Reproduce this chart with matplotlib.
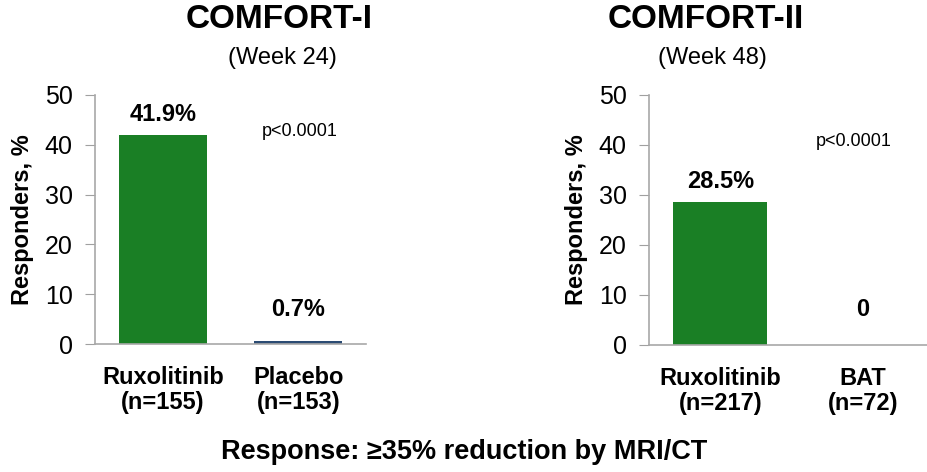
import matplotlib
matplotlib.use("Agg")
import matplotlib.pyplot as plt

plt.rcParams['font.family'] = ['Liberation Sans', 'DejaVu Sans']

# data
titles = ["COMFORT-I", "COMFORT-II"]
weeks = ["(Week 24)", "(Week 48)"]
arms1 = ["Ruxolitinib\n(n=155)", "Placebo\n(n=153)"]
arms2 = ["Ruxolitinib\n(n=217)", "BAT\n(n=72)"]
vals1 = [41.9, 0.7]
vals2 = [28.5, 0.0]
labels1 = ["41.9%", "0.7%"]
labels2 = ["28.5%", "0"]
pvals = ["p<0.0001", "p<0.0001"]
colors1 = ["#1a7f25", "#2b4b73"]
colors2 = ["#1a7f25", "#2b4b73"]

W, H = 928, 472
fig = plt.figure(figsize=(W/100, H/100), dpi=100)

def make_ax(x0, x1, y0, y1):
    return fig.add_axes([x0/W, 1-y1/H, (x1-x0)/W, (y1-y0)/H])

ax1 = make_ax(95, 366, 95, 344)
ax2 = make_ax(649, 934, 95, 345)

setup = [
    (ax1, arms1, vals1, labels1, colors1, 0.65, 300, 132, pvals[0]),
    (ax2, arms2, vals2, labels2, colors2, 0.66, 854, 142, pvals[1]),
]
for ax, arms, vals, labs, cols, bw, px, py, pv in setup:
    x = range(len(arms))
    ax.bar(x, vals, width=bw, color=cols, zorder=2)
    ax.set_xlim(-0.5, 1.5)
    ax.set_ylim(0, 50)
    ax.set_yticks([0, 10, 20, 30, 40, 50])
    ax.set_xticks(list(x))
    ax.set_xticklabels(arms, fontsize=17, fontweight='bold', linespacing=1.1)
    ax.tick_params(axis='x', length=0, pad=16)
    ax.tick_params(axis='y', direction='out', length=7, color='#a0a0a0',
                   labelsize=18, pad=9)
    for s in ['top', 'right']:
        ax.spines[s].set_visible(False)
    for s in ['left', 'bottom']:
        ax.spines[s].set_color('#a8a8a8')
        ax.spines[s].set_linewidth(1.2)
    ax.set_ylabel("Responders, %", fontsize=17, fontweight='bold', labelpad=8)
    for xi, v, l in zip(x, vals, labs):
        ax.text(xi, v + 4.2 if v > 1 else 7.0, l, ha='center', va='center',
                fontsize=17, fontweight='bold')
    fig.text(px/W, 1-py/H, pv, ha='center', va='center', fontsize=13)

for t, wk, tx, wx in zip(titles, weeks, [279, 706], [282, 712]):
    fig.text(tx/W, 1-20/H, t, ha='center', va='center', fontsize=24, fontweight='bold')
    fig.text(wx/W, 1-58/H, wk, ha='center', va='center', fontsize=17)

fig.text(464/W, 1-452/H, "Response: \u226535% reduction by MRI/CT", ha='center',
         va='center', fontsize=19.5, fontweight='bold')

fig.savefig("out.png", dpi=100)
